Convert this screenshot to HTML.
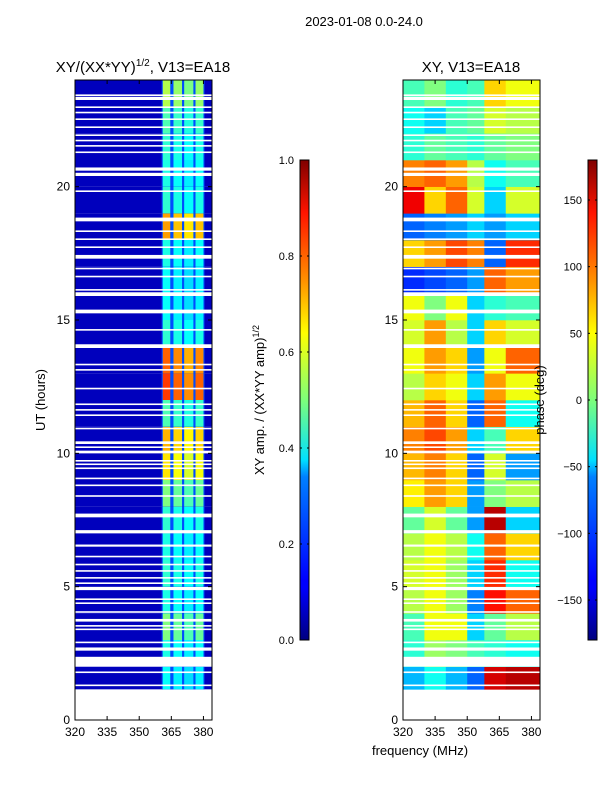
<!DOCTYPE html>
<html><head><meta charset="utf-8"><style>
body{margin:0;background:#fff;}
svg text{font-family:"Liberation Sans",sans-serif;fill:#000;}
</style></head><body>
<svg id="fig" width="600" height="800" viewBox="0 0 600 800" xmlns="http://www.w3.org/2000/svg">
<defs>
<linearGradient id="jetg" x1="0" y1="1" x2="0" y2="0">
<stop offset="0" stop-color="#000080"/><stop offset="0.11" stop-color="#0000ff"/><stop offset="0.125" stop-color="#0000ff"/>
<stop offset="0.34" stop-color="#0080ff"/><stop offset="0.375" stop-color="#00e0ff"/><stop offset="0.5" stop-color="#7dff7a"/>
<stop offset="0.64" stop-color="#ffff00"/><stop offset="0.75" stop-color="#ff9000"/><stop offset="0.89" stop-color="#ff1400"/><stop offset="1" stop-color="#800000"/>
</linearGradient>
</defs>
<text x="364" y="26" font-size="13" text-anchor="middle">2023-01-08 0.0-24.0</text>
<g id="left"></g>
<g id="right"></g>
<text x="143" y="72" font-size="15" text-anchor="middle">XY/(XX*YY)<tspan font-size="10" dy="-6">1/2</tspan><tspan dy="6">, V13=EA18</tspan></text>
<text x="471" y="72" font-size="15" text-anchor="middle">XY, V13=EA18</text>
<text x="45" y="400" font-size="13" text-anchor="middle" transform="rotate(-90 45 400)">UT (hours)</text>
<text x="420" y="755" font-size="13" text-anchor="middle">frequency (MHz)</text>
<text x="264" y="400" font-size="13" text-anchor="middle" transform="rotate(-90 264 400)">XY amp. / (XX*YY amp)<tspan font-size="9" dy="-5">1/2</tspan></text>
<text x="544" y="400" font-size="13" text-anchor="middle" transform="rotate(-90 544 400)">phase (deg)</text>
<g id="cb1"></g>
<g id="cb2"></g>
</svg>
<script>
// ---- data ----
const hours = [1,2,3,4,5,6,7,8,9,10,11,12,13,14,15,16,17,18,19,20,21,22,23];
const ampBand = [0.38,0.4,0.5,0.4,0.42,0.4,0.42,0.5,0.65,0.7,0.45,0.82,0.78,0.42,0.38,0.38,0.4,0.72,0.42,0.4,0.42,0.45,0.55];
const subBands = [[361,364.5],[366,370],[371,375.3],[376.3,380]];
const subFactor = [1.0,0.95,0.9,0.95];
const ampBackground = 0.06;
const ampBetween = 0.2;
const phaseCols = [320,330,340,350,358,368,384];
const phaseVals = [
 [-70,-40,-70,-100,150,160],
 [-30,10,0,-20,-30,-40],
 [-20,40,40,-60,-10,20],
 [20,40,10,-90,130,100],
 [30,40,10,-60,120,-40],
 [20,40,20,-40,100,60],
 [-10,30,-10,-80,160,-60],
 [50,80,60,-80,0,20],
 [70,90,60,-100,30,-80],
 [90,110,80,-60,-20,60],
 [70,100,60,-100,100,-40],
 [20,60,40,-60,80,40],
 [40,80,60,-80,40,100],
 [30,80,20,-60,60,30],
 [40,0,40,-60,-30,-20],
 [-120,-110,-100,-80,100,80],
 [60,80,110,90,-100,120],
 [-100,-90,-80,-60,-80,-60],
 [140,60,100,30,-60,30],
 [90,100,80,20,-40,-20],
 [-30,-10,-20,-30,-10,0],
 [-40,-60,-20,-10,30,20],
 [-20,0,-30,-20,60,40]
];
const dataStart = 1.15;
const gapHours = [1.27,1.76,2.0,2.6,2.88,3.37,3.5,3.69,4.02,4.35,4.5,4.87,5.1,5.3,5.56,5.8,6.1,6.5,7.0,7.6,8.37,8.77,9.03,9.41,9.56,9.69,10.0,10.2,10.35,10.9,11.4,11.6,11.81,12.4,13.1,13.3,13.95,14.6,15.25,15.9,16.1,16.6,16.9,17.3,17.7,18.0,18.3,18.7,19.8,20.4,20.6,21.26,21.5,21.7,21.9,22.2,22.5,22.75,22.95,23.25,23.4];
const gapWidths = [0.06,0.06,0.37,0.12,0.06,0.06,0.06,0.1,0.06,0.06,0.06,0.12,0.06,0.06,0.06,0.06,0.06,0.08,0.12,0.14,0.06,0.06,0.06,0.06,0.06,0.06,0.1,0.06,0.1,0.06,0.06,0.06,0.06,0.06,0.06,0.06,0.14,0.06,0.14,0.14,0.06,0.06,0.06,0.14,0.06,0.06,0.06,0.14,0.06,0.12,0.12,0.06,0.06,0.06,0.06,0.06,0.06,0.06,0.06,0.12,0.06];
const yTicks = [0,5,10,15,20];
const xTicks = [320,335,350,365,380];
const cb1Ticks = [0.0,0.2,0.4,0.6,0.8,1.0];
const cb2Ticks = [-150,-100,-50,0,50,100,150];

// ---- helpers ----
const NS='http://www.w3.org/2000/svg';
function jet(v){v=Math.max(0,Math.min(1,v));
 const f=(x)=>Math.max(0,Math.min(1,x));
 const r=f(1.5-Math.abs(4*v-3)),g=f(1.5-Math.abs(4*v-2)),b=f(1.5-Math.abs(4*v-1));
 return `rgb(${Math.round(r*255)},${Math.round(g*255)},${Math.round(b*255)})`;}
function mk(tag,attrs,parent){const e=document.createElementNS(NS,tag);for(const k in attrs)e.setAttribute(k,attrs[k]);parent.appendChild(e);return e;}
const yS=(h)=>720-h*(640/24);
function xS(x0){return (f)=>x0+(f-320)*(137/64);}
const xL=xS(75), xR=xS(403);

function panel(g,xs,x0,isAmp){
 for(let i=0;i<hours.length;i++){
  const h0=i===0?dataStart:hours[i], h1=hours[i]+1;
  if(isAmp){
   let r=mk('rect',{x:xs(320),y:yS(h1),width:xs(384)-xs(320),height:yS(h0)-yS(h1),fill:jet(ampBackground)},g);
   
   
   r=mk('rect',{x:xs(360.5),y:yS(h1),width:xs(380.5)-xs(360.5),height:yS(h0)-yS(h1),fill:jet(ampBetween)},g);
   
   
   subBands.forEach((sb,j)=>{
    const c=mk('rect',{x:xs(sb[0]),y:yS(h1),width:xs(sb[1])-xs(sb[0]),height:yS(h0)-yS(h1),fill:jet(ampBand[i]*subFactor[j])},g);
    
    
   });
  } else {
   for(let j=0;j<phaseCols.length-1;j++){
    const c=mk('rect',{x:xs(phaseCols[j]),y:yS(h1),width:xs(phaseCols[j+1])-xs(phaseCols[j])+0.3,height:yS(h0)-yS(h1)+0.3,fill:jet((phaseVals[i][j]+180)/360)},g);
    
    
   }
  }
 }
 gapHours.forEach((gh,k)=>{
  const r=mk('rect',{x:xs(320),y:yS(gh+gapWidths[k]),width:xs(384)-xs(320),height:yS(gh)-yS(gh+gapWidths[k]),fill:'#fff'},g);
  
  
 });
 const fr=mk('rect',{x:x0,y:80,width:137,height:640,fill:'none',stroke:'#000','stroke-width':1},g);
 
 
 yTicks.forEach(t=>{
  const y=yS(t);
  mk('line',{x1:x0,x2:x0+4,y1:y,y2:y,stroke:'#000'},g);
  mk('line',{x1:x0+137,x2:x0+133,y1:y,y2:y,stroke:'#000'},g);
  const tx=mk('text',{x:x0-5,y:y+4,'font-size':12,'text-anchor':'end'},g);tx.textContent=t;
  
  
 });
 xTicks.forEach(t=>{
  const x=xs(t);
  mk('line',{x1:x,x2:x,y1:720,y2:716,stroke:'#000'},g);
  mk('line',{x1:x,x2:x,y1:80,y2:84,stroke:'#000'},g);
  const tx=mk('text',{x:x,y:736,'font-size':12,'text-anchor':'middle'},g);tx.textContent=t;
  
  
 });
}
panel(document.getElementById('left'),xL,75,true);
panel(document.getElementById('right'),xR,403,false);

function cbar(g,x,ticks,lo,hi,fmt){
 mk('rect',{x:x,y:160,width:9,height:480,fill:'url(#jetg)',stroke:'#000','stroke-width':1},g);
 ticks.forEach(t=>{
  const y=640-(t-lo)/(hi-lo)*480;
  mk('line',{x1:x,x2:x+2,y1:y,y2:y,stroke:'#000'},g);
  mk('line',{x1:x+9,x2:x+7,y1:y,y2:y,stroke:'#000'},g);
  const tx=mk('text',{x:x-6,y:y+4,'font-size':11,'text-anchor':'end'},g);tx.textContent=fmt(t);
  
  
 });
}
cbar(document.getElementById('cb1'),300,cb1Ticks,0,1,t=>t.toFixed(1));
cbar(document.getElementById('cb2'),588,cb2Ticks,-180,180,t=>t<0?'\u2212'+(-t):String(t));
</script>
</body></html>
